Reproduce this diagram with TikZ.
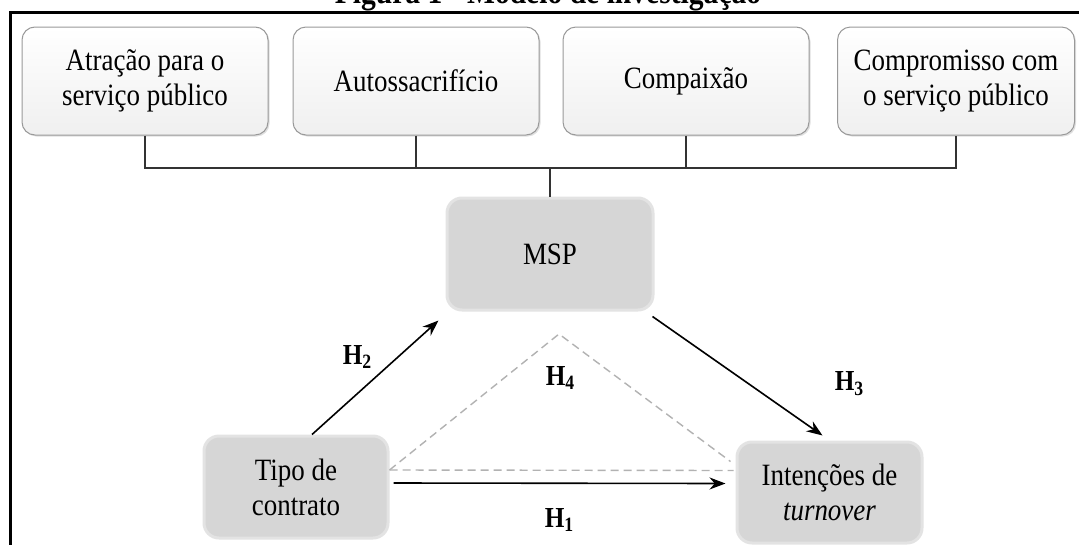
\documentclass[tikz,border=0pt]{standalone}
\usepackage{fontspec}
\setmainfont[FakeStretch=0.87]{Liberation Serif}
\usetikzlibrary{arrows.meta,calc,shadows}
\tikzset{
  topbox/.style={draw=black!40, line width=1pt, rounded corners=13pt, top color=white, bottom color=black!6,
    minimum width=246pt, minimum height=108pt, align=center, inner sep=0pt,
    drop shadow={opacity=0.25, shadow xshift=1.5pt, shadow yshift=-1.5pt},
    font=\fontsize{31}{35}\selectfont},
  greybox/.style={draw=black!11, line width=3pt, rounded corners=15pt, fill=black!16,
    align=center, inner sep=0pt, font=\fontsize{31}{35}\selectfont},
  conn/.style={draw=black!80, line width=1.6pt},
  hyp/.style={draw=black, line width=1.6pt, -{Stealth[length=16pt,width=12pt]}},
  dashline/.style={draw=black!30, line width=1.4pt, dash pattern=on 8pt off 5pt},
  hlab/.style={font=\fontsize{29}{29}\selectfont\bfseries, inner sep=0pt}
}
\begin{document}
\begin{tikzpicture}[x=1pt,y=-1pt]
\useasboundingbox (0,0) rectangle (1079,544);
\clip (0,0) rectangle (1079,544);
\fill[white] (0,0) rectangle (1079,544);
\node[font=\fontsize{34}{34}\selectfont\bfseries, anchor=base, inner sep=0pt] (title) at (548,3) {Figura 1 - Modelo de investigação};
\draw[line width=3pt] (1100,12) -- (10.5,12) -- (10.5,560);
% top boxes
\node[topbox] (b1) at (145,81) {Atração para o\\serviço público};
\node[topbox] (b2) at (416,81) {Autossacrifício};
\node[topbox] (b3) at (686,81) {Compaixão};
\node[topbox, minimum width=237pt] (b4) at (956,81) {Compromisso com\\o serviço público};
% central boxes
\node[greybox, minimum width=206pt, minimum height=112pt] (msp) at (550,254) {MSP};
\node[greybox, minimum width=184pt, minimum height=102pt] (tipo) at (296,487) {Tipo de\\contrato};
\node[greybox, minimum width=185pt, minimum height=101pt] (int) at (829.5,492.5) {Intenções de\\\textit{turnover}};
% connectors
\coordinate (bar) at (550,168);
\draw[conn] (b1.south) -- (b1.south |- bar) -- (b4.south |- bar) -- (b4.south);
\draw[conn] (b2.south) -- (b2.south |- bar);
\draw[conn] (b3.south) -- (b3.south |- bar);
\draw[conn] (msp.north) -- (msp.north |- bar);
% dashed H4
\coordinate (apex) at (559,334);
\draw[dashline] ($(tipo.east)+(0,-17)$) -- (apex) -- ($(int.west)+(-5,-31)$);
\draw[dashline] ($(tipo.east)+(0,-17)$) -- ($(int.west)+(-2,-22)$);
% hypotheses
\draw[hyp] ($(tipo.north)+(16,0)$) -- ($(msp.south west)+(-7,9)$);
\draw[hyp] ($(msp.south east)+(-2,5)$) -- ($(int.north)+(-7,-5)$);
\draw[hyp] ($(tipo.east)+(4,-4)$) -- ($(int.west)+(-10,-9)$);
% labels
\node[hlab] (h2) at (358,357) {H$_{\mathbf 2}$};
\node[hlab] (h4) at (561,378) {H$_{\mathbf 4}$};
\node[hlab] (h3) at (850,384) {H$_{\mathbf 3}$};
\node[hlab] (h1) at (560,520) {H$_{\mathbf 1}$};
\end{tikzpicture}
\end{document}
